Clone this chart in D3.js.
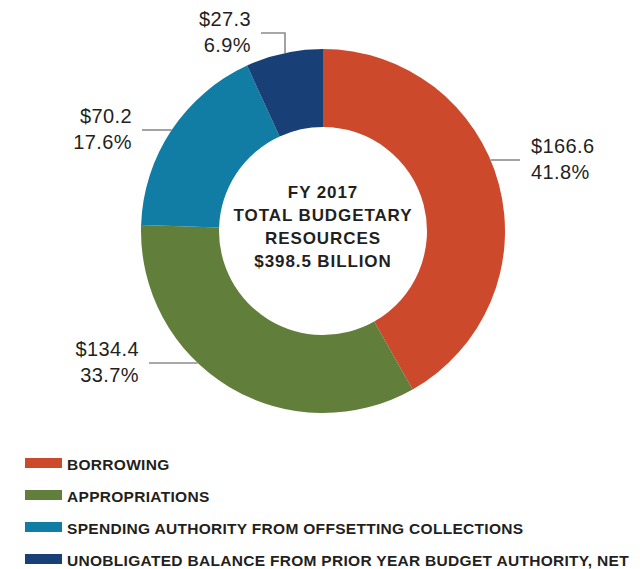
<!DOCTYPE html>
<html>
<head>
<meta charset="utf-8">
<script src="https://cdn.jsdelivr.net/npm/d3@7/dist/d3.min.js"></script>
<style>
  body { margin: 0; background: #fff; }
  svg { display: block; font-family: 'Liberation Sans', Arial, sans-serif; }
</style>
</head>
<body>
<svg id="chart" width="640" height="569"></svg>
<script>
  // data
  const categories = [
    'BORROWING',
    'APPROPRIATIONS',
    'SPENDING AUTHORITY FROM OFFSETTING COLLECTIONS',
    'UNOBLIGATED BALANCE FROM PRIOR YEAR BUDGET AUTHORITY, NET'
  ];
  const values = [166.6, 134.4, 70.2, 27.3];
  const percents = [41.8, 33.7, 17.6, 6.9];
  const centerLines = ['FY 2017', 'TOTAL BUDGETARY', 'RESOURCES', '$398.5 BILLION'];

  const colors = ['#CC4A2B', '#617E3B', '#117DA5', '#183F76'];

  // label placement (leader line y, where it ends, text side)
  const labelLayout = [
    { y: 160, endX: 520, side: 'right' },
    { y: 363, endX: 149, side: 'left' },
    { y: 130, endX: 142, side: 'left' },
    { y: 33, endX: 261, side: 'left', elbowX: 285 }
  ];

  const svg = d3.select('#chart');
  const cx = 323, cy = 231;
  const outerR = 182, innerR = 104;

  const pie = d3.pie().sort(null).value(d => d);
  const arc = d3.arc().innerRadius(innerR).outerRadius(outerR);

  const g = svg.append('g').attr('transform', `translate(${cx},${cy})`);

  g.selectAll('path')
    .data(pie(values))
    .enter()
    .append('path')
    .attr('d', arc)
    .attr('fill', (d, i) => colors[i]);

  // leader lines + labels
  const lineColor = '#8c8c8c';
  const textColor = '#231F20';
  labelLayout.forEach((l, i) => {
    let pts;
    if (l.elbowX !== undefined) {
      const dx = l.elbowX - cx;
      const yHit = cy - Math.sqrt(outerR * outerR - dx * dx);
      pts = [[l.endX, l.y], [l.elbowX, l.y], [l.elbowX, yHit]];
    } else {
      const dy = l.y - cy;
      const xOff = Math.sqrt(outerR * outerR - dy * dy);
      const xHit = l.side === 'right' ? cx + xOff : cx - xOff;
      pts = [[xHit, l.y], [l.endX, l.y]];
    }
    svg.append('path')
      .attr('d', d3.line()(pts))
      .attr('fill', 'none')
      .attr('stroke', lineColor)
      .attr('stroke-width', 1.6);

    const tx = l.side === 'right' ? l.endX + 11 : l.endX - 10;
    const t = svg.append('text')
      .attr('text-anchor', l.side === 'right' ? 'start' : 'end')
      .attr('fill', textColor)
      .style('font-size', '20px')
      .style('letter-spacing', '0.4px');
    t.append('tspan').attr('x', tx).attr('y', l.y - 7).text('$' + values[i].toFixed(1));
    t.append('tspan').attr('x', tx).attr('y', l.y + 19).text(percents[i].toFixed(1) + '%');
  });

  // center title
  svg.append('g')
    .selectAll('text')
    .data(centerLines)
    .enter()
    .append('text')
    .attr('x', cx)
    .attr('y', (d, i) => 198 + i * 23)
    .attr('text-anchor', 'middle')
    .attr('fill', textColor)
    .style('font-size', '17px')
    .style('font-weight', 'bold')
    .style('letter-spacing', '0.9px')
    .text(d => d);

  // legend
  const legend = svg.append('g')
    .selectAll('g')
    .data(categories)
    .enter()
    .append('g')
    .attr('transform', (d, i) => `translate(25,${458 + i * 32})`);

  legend.append('rect')
    .attr('width', 37)
    .attr('height', 10)
    .attr('fill', (d, i) => colors[i]);

  legend.append('text')
    .attr('x', 42)
    .attr('y', 12)
    .attr('fill', textColor)
    .style('font-size', '15.5px')
    .style('font-weight', 'bold')
    .style('letter-spacing', '0.3px')
    .text(d => d);
</script>
</body>
</html>
